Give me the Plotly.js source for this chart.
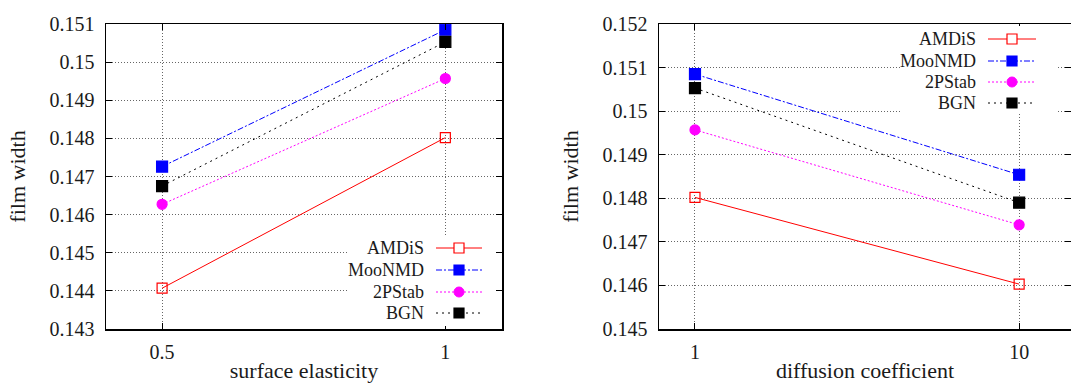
<!DOCTYPE html>
<html>
<head>
<meta charset="utf-8">
<script src="https://cdn.plot.ly/plotly-3.0.1.min.js"></script>
<style>html,body{margin:0;padding:0;background:#fff;}#chart{width:1071px;height:383px;}</style>
</head>
<body>
<div id="chart"></div>
<script>
// ---- data ----
const seriesNames = ["AMDiS", "MooNMD", "2PStab", "BGN"];
const surfaceElasticity = [0.5, 1];
const diffusionCoefficient = [1, 10];
const amdisSurface  = [0.14407, 0.14802];
const moonmdSurface = [0.14726, 0.15085];
const pstabSurface  = [0.14627, 0.14957];
const bgnSurface    = [0.14675, 0.15053];
const amdisDiffusion  = [0.14802, 0.14603];
const moonmdDiffusion = [0.15085, 0.14854];
const pstabDiffusion  = [0.14957, 0.14739];
const bgnDiffusion    = [0.15053, 0.14790];
const yTicksLeft  = [0.143, 0.144, 0.145, 0.146, 0.147, 0.148, 0.149, 0.150, 0.151];
const yLabelsLeft = ["0.143", "0.144", "0.145", "0.146", "0.147", "0.148", "0.149", "0.15", "0.151"];
const yTicksRight  = [0.145, 0.146, 0.147, 0.148, 0.149, 0.150, 0.151, 0.152];
const yLabelsRight = ["0.145", "0.146", "0.147", "0.148", "0.149", "0.15", "0.151", "0.152"];
const xTicksLeft = [0.5, 1];
const xLabelsLeft = ["0.5", "1"];
const xTicksRight = [1, 10];
const xLabelsRight = ["1", "10"];

// ---- styles ----
const W = 1071, H = 383;
const FONT = "Liberation Serif";
const TXT = "#1a1a1a";
const styles = [
  {color: "#ff0000", dash: "solid",           symbol: "square-open", msize: 10},
  {color: "#0000ff", dash: "6px,2px,2px,2px", symbol: "square",      msize: 11},
  {color: "#ff00ff", dash: "2px,2px",         symbol: "circle",      msize: 10},
  {color: "#000000", dash: "2px,4px",         symbol: "square",      msize: 11}
];
const leftData = [amdisSurface, moonmdSurface, pstabSurface, bgnSurface];
const rightData = [amdisDiffusion, moonmdDiffusion, pstabDiffusion, bgnDiffusion];

const traces = [];
seriesNames.forEach((name, i) => {
  const s = styles[i];
  const base = {
    type: "scatter", mode: "lines+markers", name: name, showlegend: false, cliponaxis: false,
    line: {color: s.color, width: 1, dash: s.dash},
    marker: {symbol: s.symbol, size: s.msize, color: s.color, line: {color: s.color, width: 1.2}}
  };
  traces.push(Object.assign({}, base, {x: surfaceElasticity, y: leftData[i], xaxis: "x", yaxis: "y"}));
  traces.push(Object.assign({}, base, {x: diffusionCoefficient, y: rightData[i], xaxis: "x2", yaxis: "y2"}));
});

const px = v => v / W;
const py = v => 1 - v / H;

const axisCommon = {
  showline: true, linecolor: "#000", linewidth: 1.5, mirror: "ticks",
  ticks: "inside", ticklen: 6, tickwidth: 1, tickcolor: "#000",
  showgrid: true, gridcolor: "#666", griddash: "1px,2px", gridwidth: 1,
  zeroline: false, tickfont: {family: FONT, size: 20, color: TXT},
  fixedrange: true
};

const ydom = [py(329), py(24)];
const titleFont = {family: FONT, size: 22, color: TXT};

const layout = {
  width: W, height: H,
  margin: {l: 0, r: 0, t: 0, b: 0},
  paper_bgcolor: "#fff", plot_bgcolor: "#fff",
  showlegend: false,
  font: {family: FONT, color: TXT},
  xaxis: Object.assign({}, axisCommon, {
    domain: [px(106), px(502)], range: [0.401, 1.1], tickmode: "array",
    tickvals: xTicksLeft, ticktext: xLabelsLeft, anchor: "y", ticklabelstandoff: 4,
    title: {text: "surface elasticity", font: titleFont, standoff: 6}
  }),
  yaxis: Object.assign({}, axisCommon, {
    domain: ydom, range: [0.143, 0.151], tickmode: "array",
    tickvals: yTicksLeft, ticktext: yLabelsLeft, anchor: "x", ticklabelstandoff: 6,
    title: {text: "film width", font: titleFont, standoff: 18}
  }),
  xaxis2: Object.assign({}, axisCommon, {
    domain: [px(659), 1], type: "log", range: [-0.111, 1.16], tickmode: "array",
    tickvals: xTicksRight, ticktext: xLabelsRight, anchor: "y2", ticklabelstandoff: 4,
    title: {text: "diffusion coefficient", font: titleFont, standoff: 6}
  }),
  yaxis2: Object.assign({}, axisCommon, {
    domain: ydom, range: [0.145, 0.152], tickmode: "array",
    tickvals: yTicksRight, ticktext: yLabelsRight, anchor: "x2", ticklabelstandoff: 6,
    title: {text: "film width", font: titleFont, standoff: 18}
  }),
  shapes: [],
  annotations: []
};

// ---- hand-built gnuplot-style legends (text, then sample) ----
function addLegend(box, textRight, lineX0, lineX1, markX, rowsY) {
  layout.shapes.push({type: "rect", xref: "paper", yref: "paper", layer: "above",
    x0: px(box[0]), x1: px(box[1]), y0: py(box[3]), y1: py(box[2]),
    fillcolor: "#fff", line: {width: 0}});
  seriesNames.forEach((name, i) => {
    const s = styles[i];
    const y = rowsY[i];
    layout.annotations.push({xref: "paper", yref: "paper", x: px(textRight), y: py(y),
      xanchor: "right", yanchor: "middle", showarrow: false, text: name,
      font: {family: FONT, size: 18, color: TXT}});
    layout.shapes.push({type: "line", xref: "paper", yref: "paper", layer: "above",
      x0: px(lineX0), x1: px(lineX1), y0: py(y), y1: py(y),
      line: {color: s.color, width: 1, dash: s.dash}});
    const r = 5;
    if (s.symbol === "circle") {
      layout.shapes.push({type: "circle", xref: "paper", yref: "paper", layer: "above",
        x0: px(markX - r), x1: px(markX + r), y0: py(y + r), y1: py(y - r),
        fillcolor: s.color, line: {color: s.color, width: 1}});
    } else {
      const open = s.symbol === "square-open";
      layout.shapes.push({type: "rect", xref: "paper", yref: "paper", layer: "above",
        x0: px(markX - r), x1: px(markX + r), y0: py(y + r), y1: py(y - r),
        fillcolor: open ? "#fff" : s.color, line: {color: s.color, width: 1.2}});
    }
  });
}
addLegend([348, 494, 237, 326], 426, 436, 482, 459, [248, 270, 292, 313]);
addLegend([902, 1058, 26, 114], 978, 988, 1036, 1012, [39, 61, 82, 103]);

Plotly.newPlot("chart", traces, layout, {staticPlot: true, displayModeBar: false});
</script>
</body>
</html>
